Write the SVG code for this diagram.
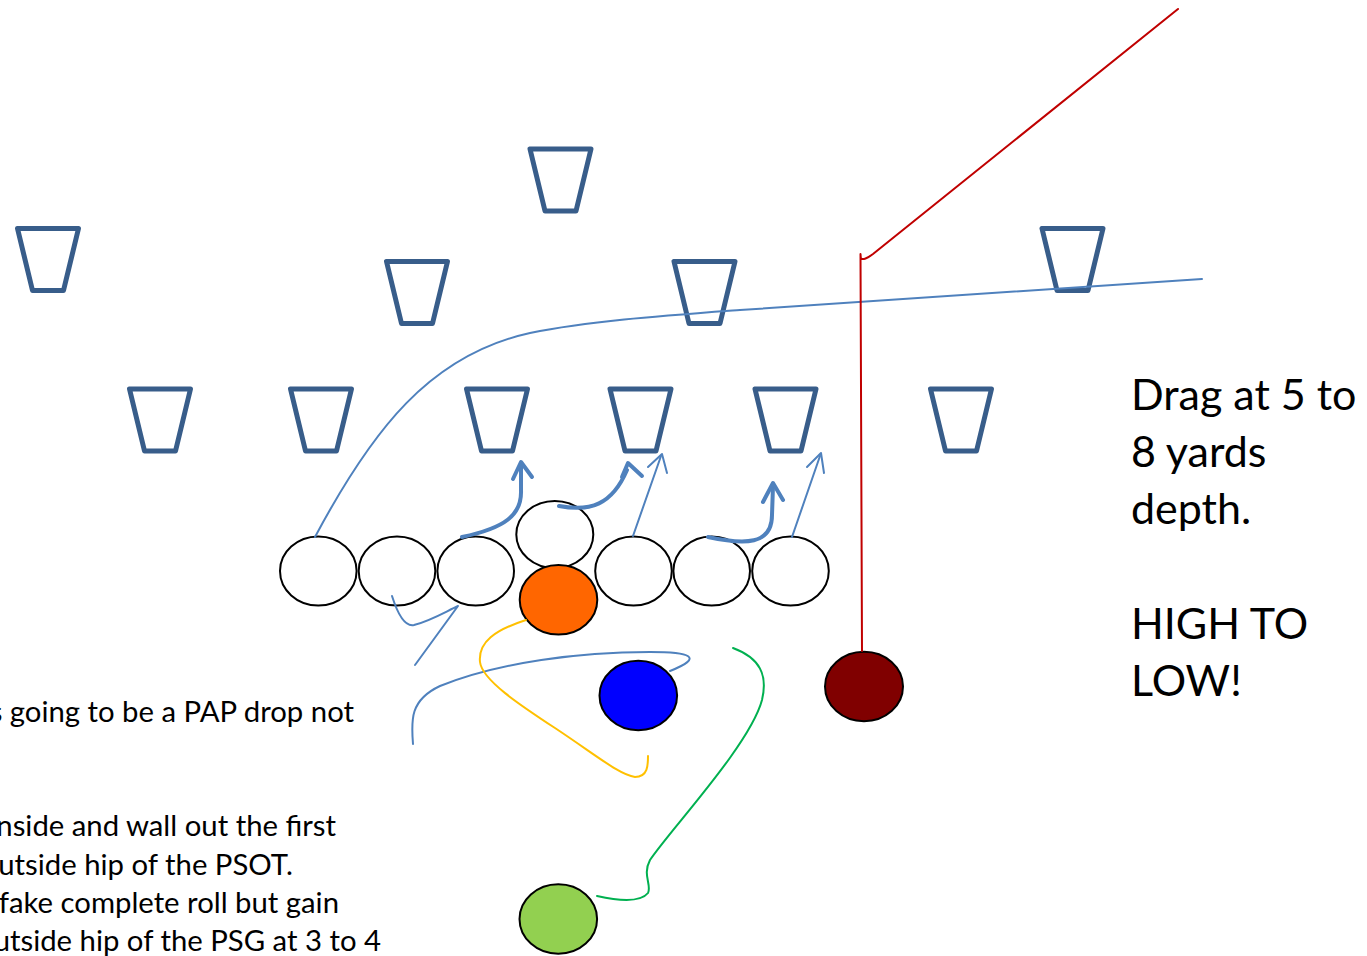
<svg xmlns="http://www.w3.org/2000/svg" xmlns:xlink="http://www.w3.org/1999/xlink" width="1367" height="956" viewBox="0 0 1367 956">
<style>
.def{fill:none;stroke:#385D8A;stroke-width:5;stroke-linejoin:round}
.ol{fill:#FFFFFF;stroke:#000000;stroke-width:2}
.pl{stroke:#000000;stroke-width:2}
.rt{fill:none;stroke:#4F81BD;stroke-width:2;stroke-linecap:round;stroke-linejoin:round}
.thick{fill:none;stroke:#4F81BD;stroke-width:4;stroke-linecap:round;stroke-linejoin:round}
.red{fill:none;stroke:#C00000;stroke-width:2;stroke-linecap:round;stroke-linejoin:round}
.yel{fill:none;stroke:#FFC000;stroke-width:2;stroke-linecap:round}
.grn{fill:none;stroke:#00B050;stroke-width:2;stroke-linecap:round}
.big{font-family:Lato,"Liberation Sans",sans-serif;font-size:43px;fill:#000000}
.note{font-family:Lato,"Liberation Sans",sans-serif;font-size:29.3px;fill:#000000}
</style>
<defs>
<path id="trap" d="M-30.5,-31 H30.5 L15.5,31 H-15.5 Z"/>
</defs>
<rect x="0" y="0" width="1367" height="956" fill="#FFFFFF"/>

<g id="defense">
<g id="d1"><use xlink:href="#trap" href="#trap" class="def" x="560.5" y="180"/></g>
<g id="d2"><use xlink:href="#trap" href="#trap" class="def" x="48" y="259.5"/></g>
<g id="d3"><use xlink:href="#trap" href="#trap" class="def" x="417" y="292.5"/></g>
<g id="d4"><use xlink:href="#trap" href="#trap" class="def" x="704.5" y="292.5"/></g>
<g id="d5"><use xlink:href="#trap" href="#trap" class="def" x="1072.5" y="259.5"/></g>
<g id="d6"><use xlink:href="#trap" href="#trap" class="def" x="160" y="420"/></g>
<g id="d7"><use xlink:href="#trap" href="#trap" class="def" x="321" y="420"/></g>
<g id="d8"><use xlink:href="#trap" href="#trap" class="def" x="497" y="420"/></g>
<g id="d9"><use xlink:href="#trap" href="#trap" class="def" x="640.5" y="420"/></g>
<g id="d10"><use xlink:href="#trap" href="#trap" class="def" x="785.5" y="420"/></g>
<g id="d11"><use xlink:href="#trap" href="#trap" class="def" x="961" y="420"/></g>
</g>

<g id="offense">
<g id="lt"><ellipse class="ol" cx="318.3" cy="571" rx="38.3" ry="34.5"/></g>
<g id="lg"><ellipse class="ol" cx="397" cy="571" rx="38.3" ry="34.5"/></g>
<g id="lc"><ellipse class="ol" cx="475.7" cy="571" rx="38.3" ry="34.5"/></g>
<g id="rg"><ellipse class="ol" cx="633.5" cy="571" rx="38.3" ry="34.5"/></g>
<g id="rt"><ellipse class="ol" cx="711.7" cy="571" rx="38.3" ry="34.5"/></g>
<g id="te"><ellipse class="ol" cx="790.5" cy="571" rx="38.3" ry="34.5"/></g>
<g id="snap"><ellipse class="ol" cx="554.8" cy="534.5" rx="38.5" ry="33.5"/></g>
<g id="qb"><ellipse class="pl" fill="#FF6600" cx="558.5" cy="599.8" rx="38.8" ry="34.8"/></g>
<g id="back"><ellipse class="pl" fill="#0000FF" cx="638.3" cy="695.5" rx="38.8" ry="34.8"/></g>
<g id="receiver"><ellipse class="pl" fill="#800000" cx="864" cy="686.5" rx="39" ry="34.8"/></g>
<g id="fb"><ellipse class="pl" fill="#92D050" cx="558.3" cy="919" rx="38.8" ry="34.8"/></g>
</g>

<g id="connectors">
<path class="rt" d="M315,537 C372,430 430,355 530,333 C590,321 660,316 740,310 L1202,279"/>
<path class="red" d="M862,651 L860.5,254 L860.8,258 Q863,261.5 873,254 L1178,9"/>
<path class="thick" d="M462,537 C505,528 522,515 521,490 L521,464"/>
<path class="thick" d="M513,479 L521,462 L532,477"/>
<path class="thick" d="M559,506 C590,512 612,505 627,470"/>
<path class="thick" d="M622,477 L628,463 L642,476"/>
<path class="rt" d="M633,536 L661,456"/>
<path class="rt" d="M648,467 L662,454 L667,473"/>
<path class="thick" d="M708,537 C745,545 772,545 772,515 L773,486"/>
<path class="thick" d="M763,502 L773,483 L783,500"/>
<path class="rt" d="M792,537 L820,456"/>
<path class="rt" d="M807,467 L821,453 L824,473"/>
<path class="rt" d="M392,596 C398,615 405,627 414,625 C430,621 445,612 458,606 L415,665"/>
<path class="rt" d="M413,744 C411,720 410,700 440,686 C500,662 580,652 650,652 C690,652 705,657 670,671"/>
<path class="yel" d="M526,620 C495,630 478,642 480,662 C482,680 520,705 555,728 C600,758 620,775 635,777 C648,777 648,765 648,756"/>
<path class="grn" d="M733,648 C760,658 768,675 762,700 C750,745 670,830 650,860 C642,875 652,885 648,893 C640,903 615,900 597,896"/>
</g>

<g id="drag-note">
<text class="big" x="1131" y="410">Drag at 5 to</text>
<text class="big" x="1131" y="467">8 yards</text>
<text class="big" x="1131" y="524">depth.</text>
<text class="big" x="1131" y="639">HIGH TO</text>
<text class="big" x="1131" y="696">LOW!</text>
</g>

<g id="left-notes">
<text class="note" x="354" y="722" text-anchor="end">s going to be a PAP drop not</text>
<text class="note" x="336" y="836" text-anchor="end">nside and wall out the first</text>
<text class="note" x="293" y="875" text-anchor="end">outside hip of the PSOT.</text>
<text class="note" x="339" y="913" text-anchor="end">fake complete roll but gain</text>
<text class="note" x="381" y="951" text-anchor="end">utside hip of the PSG at 3 to 4</text>
</g>
</svg>
